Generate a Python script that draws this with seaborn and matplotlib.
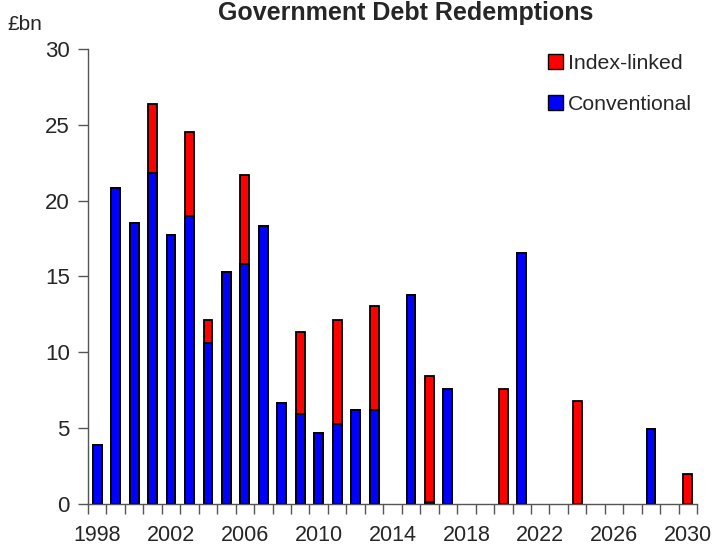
import numpy as np
import pandas as pd
import matplotlib
matplotlib.use("Agg")
import matplotlib.pyplot as plt
from matplotlib.patches import Patch
import seaborn as sns

years = list(range(1998, 2031))
conventional = [3.9, 20.8, 18.5, 21.8, 17.7, 19.0, 10.6, 15.3, 15.8, 18.35,
                6.65, 5.9, 4.67, 5.3, 6.2, 6.2, 0.0, 13.8, 0.1, 7.6,
                0.0, 0.0, 0.0, 16.55, 0.0, 0.0, 0.0, 0.0, 0.0, 0.0,
                4.97, 0.0, 0.0]
index_linked = [0.0, 0.0, 0.0, 4.55, 0.0, 5.55, 1.5, 0.0, 5.9, 0.0,
                0.0, 5.45, 0.0, 6.8, 0.0, 6.85, 0.0, 0.0, 8.35, 0.0,
                0.0, 0.0, 7.6, 0.0, 0.0, 0.0, 6.82, 0.0, 0.0, 0.0,
                0.0, 0.0, 1.98]
tick_years = list(range(1998, 2031, 4))

sns.set_style("white")
plt.rcParams['font.family'] = ['Liberation Sans', 'DejaVu Sans']

df = pd.DataFrame({"year": [str(y) for y in years],
                   "conv": conventional,
                   "il": index_linked})
df["total"] = df["conv"] + df["il"]
order = df["year"].tolist()

fig = plt.figure(figsize=(7.15, 5.49), dpi=100)
ax = fig.add_axes([0.123, 0.082, 0.852, 0.829])

df_t = df[df["total"] > 0]
df_c = df[df["conv"] > 0]
sns.barplot(data=df_t, x="year", y="total", order=order, color="#ff0000",
            saturation=1, width=0.48, edgecolor="black", linewidth=1.3, ax=ax)
sns.barplot(data=df_c, x="year", y="conv", order=order, color="#0000ff",
            saturation=1, width=0.48, edgecolor="black", linewidth=1.3, ax=ax)

ax.set_xlim(-0.5, len(years) - 0.5)
ax.set_ylim(0, 30)
ax.set_yticks([0, 5, 10, 15, 20, 25, 30])
ax.tick_params(axis="y", which="major", length=7, width=1, color="#555555",
               labelsize=16, pad=6, left=True)

ax.set_xticks(np.arange(-0.5, len(years), 1))
ax.set_xticklabels([])
ax.tick_params(axis="x", which="major", length=7, width=1, color="#555555",
               bottom=True, direction="out")
ax.set_xticks([years.index(y) for y in tick_years], minor=True)
ax.set_xticklabels([str(y) for y in tick_years], minor=True)
ax.tick_params(axis="x", which="minor", length=0, labelsize=15.5, pad=15)

ax.set_xlabel("")
ax.set_ylabel("")
sns.despine(ax=ax)
for s in ["left", "bottom"]:
    ax.spines[s].set_color("#555555")
    ax.spines[s].set_linewidth(1)

handles = [Patch(facecolor="#ff0000", edgecolor="black", label="Index-linked"),
           Patch(facecolor="#0000ff", edgecolor="black", label="Conventional")]
ax.legend(handles=handles, loc="upper left", bbox_to_anchor=(0.742, 1.008),
          frameon=False, fontsize=15.3, handlelength=0.68, handleheight=0.68,
          handletextpad=0.25, labelspacing=1.05, borderaxespad=0)

fig.text(0.567, 0.963, "Government Debt Redemptions", ha="center", va="baseline",
         fontsize=18, fontweight="bold")
fig.text(0.011, 0.955, "£bn", ha="left", va="center", fontsize=15)

fig.savefig("out.png", dpi=100)
